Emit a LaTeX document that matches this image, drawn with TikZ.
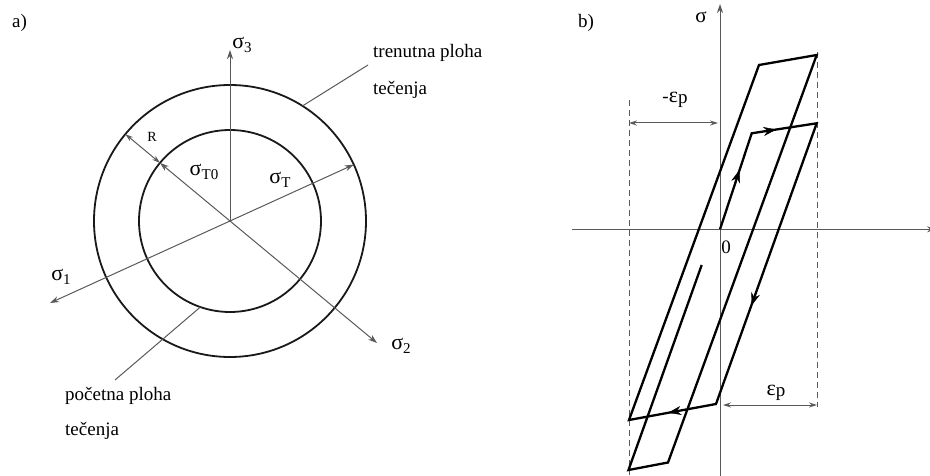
\documentclass[tikz,border=0pt]{standalone}
\usepackage{fontspec}
\setmainfont{Liberation Serif}
\usetikzlibrary{arrows.meta,calc,decorations.markings}
\newcommand\sgm[1]{{\fontsize{22}{22}\selectfont σ}\raisebox{-4pt}{\fontsize{15}{15}\selectfont #1}}
\newcommand\epsp{{\fontsize{22}{22}\selectfont ε}\raisebox{-1pt}{\fontsize{19}{19}\selectfont p}}

\begin{document}
\begin{tikzpicture}[
  x=1pt,y=1pt,
  txt/.style={font=\fontsize{19}{22}\selectfont,inner sep=0pt},
  lbl/.style={txt,anchor=base west},
  axis/.style={draw=black!65,line width=1pt},
  axarr/.style={axis,-{Stealth[length=9pt,width=6pt]}},
  ring/.style={draw=black!90,line width=1.8pt},
  dim/.style={axis,{Stealth[length=8pt,width=5pt]}-{Stealth[length=8pt,width=5pt]}},
  dashline/.style={draw=black!65,line width=0.8pt,dash pattern=on 6pt off 4pt},
  cyc/.style={draw=black,line width=2.3pt,line join=miter},
  flow/.style={decoration={markings,mark=at position #1 with {\arrow{Stealth[length=13pt,width=9pt]}}},postaction={decorate}}
]
\useasboundingbox (0,0) rectangle (930,475);

\coordinate (c) at (230,254);
\draw[ring] (c) circle[radius=136];
\draw[ring] (c) circle[radius=91];
\coordinate (s3) at (230,425);
\coordinate (s1) at (50,172);
\coordinate (s2) at (377,132);
\coordinate (sT) at ($(c)+(24.5:136)$);
\coordinate (rin) at ($(c)+(140.3:91)$);
\coordinate (rout) at ($(c)+(140.3:136)$);
\draw[axarr] (c) -- (s3);
\draw[axarr] (c) -- (s1);
\draw[axarr] (c) -- (s2);
\draw[axarr] (c) -- (sT);
\draw[axarr] (c) -- (rin);
\draw[dim] (rin) -- (rout);
\node[txt] (n3) at (242,430) {\sgm{3}};
\node[txt] (n1) at (61,198) {\sgm{1}};
\node[txt] (n2) at (401,129) {\sgm{2}};
\node[txt,font=\fontsize{14}{16}\selectfont] (nR) at (152,338) {R};
\node[txt] (nT0) at (204,303) {\sgm{T0}};
\node[txt] (nT) at (280,295) {\sgm{T}};
\coordinate (tr) at ($(c)+(57.8:136)$);
\coordinate (trend) at (368,410);
\draw[axis] (tr) -- (trend);
\node[lbl] (tren1) at (373,417) {trenutna ploha};
\node[lbl] (tren2) at (373,380) {tečenja};
\coordinate (po) at ($(c)+(251:91)$);
\coordinate (poend) at (115,95);
\draw[axis] (po) -- (poend);
\node[lbl] (poc1) at (65,75) {početna ploha};
\node[lbl] (poc2) at (65,40) {tečenja};
\node[lbl] (pa) at (12,447) {a)};

\node[lbl] (pb) at (578,447) {b)};
\coordinate (ybot) at (720,-5);
\coordinate (ytop) at (720,471);
\coordinate (xl) at (572,245.7);
\coordinate (xr) at (936,245.7);
\draw[axarr] (ybot) -- (ytop);
\draw[axarr] (xl) -- (xr);
\node[txt,font=\fontsize{21}{22}\selectfont] (sig) at (701,458) {σ};
\node[txt] (zero) at (726,228) {0};
\coordinate (dl1) at (629,375);
\coordinate (dl2) at (629,0);
\coordinate (dr1) at (817,423);
\coordinate (dr2) at (817,68);
\draw[dashline] (dl1) -- (dl2);
\draw[dashline] (dr1) -- (dr2);
\coordinate (m1) at (629,352);
\coordinate (m2) at (718,352);
\coordinate (q1) at (723,70);
\coordinate (q2) at (817,70);
\draw[dim] (m1) -- (m2);
\draw[dim] (q1) -- (q2);
\node[txt] (epm) at (675,375) {-\epsp};
\node[txt] (epp) at (776,82) {\epsp};

\coordinate (p0) at (720,245.7);
\coordinate (p1) at (751.7,341.7);
\coordinate (p2) at (816.7,351.7);
\coordinate (p3) at (716,71);
\coordinate (p4) at (629,55);
\coordinate (p5) at (759,410);
\coordinate (p6) at (816.7,420);
\coordinate (p7) at (668,12.5);
\coordinate (p8) at (628.5,5);
\coordinate (p9) at (701.7,210);
\draw[cyc] (p0) -- (p1) -- (p2) -- (p3) -- (p4) -- (p5) -- (p6) -- (p7) -- (p8) -- (p9);
\path[flow=0.62] (p0) -- (p1);
\path[flow=0.38] (p1) -- (p2);
\path[flow=0.65] (p2) -- (p3);
\path[flow=0.55] (p3) -- (p4);
\end{tikzpicture}
\end{document}
